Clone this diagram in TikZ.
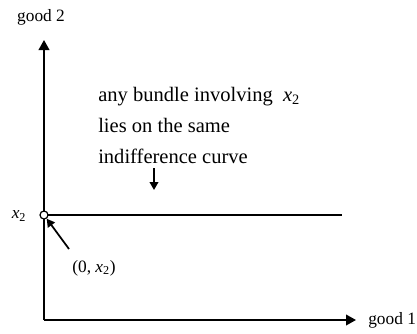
\documentclass[tikz,border=0pt]{standalone}
\usepackage{fontspec}
\setmainfont{Liberation Serif}
\usepackage{tikz}
\usetikzlibrary{arrows.meta}

\newcommand{\xtwo}{\textit{x}\textsubscript{2}}

\begin{document}
\begin{tikzpicture}[x=0.75pt,y=0.75pt]
\useasboundingbox (0,0) rectangle (417,333);
\tikzset{
  axis/.style={line width=1.3pt,-{Triangle[length=7.5pt,width=8pt]}},
  pointer/.style={line width=1.3pt,-{Triangle[length=6pt,width=6.5pt]}},
  label/.style={font=\fontsize{13}{15}\selectfont,inner sep=0pt}
}
% Axes
\coordinate (O) at (44,13);
\coordinate (ytop) at (44,293);
\coordinate (xend) at (356,13);
\draw[axis] (O) -- (ytop);
\draw[axis] (O) -- (xend);
\node[label,anchor=west] (good1) at (368,13) {good 1};
\node[label] (good2) at (41,316) {good 2};

% Indifference curve
\coordinate (icend) at (342,118);
\draw[line width=2pt] (44,118) -- (icend);
\node[circle,draw,fill=white,line width=0.9pt,inner sep=0pt,minimum size=6pt] (pt) at (44,118) {};
\node[label] (x2) at (19,117) {\xtwo};

% Point label
\node[label] (coord) at (94,65) {(0, \xtwo)};
\coordinate (ptail) at (69,84);
\draw[pointer] (ptail) -- (pt);

% Comment text
\node[anchor=north west,align=left,inner sep=0pt,
  font=\fontsize{15.4}{23.3}\selectfont] (note) at (98,246)
  {any bundle involving~~\xtwo\\lies on the same\\indifference curve};
\coordinate (dtop) at (154,165);
\coordinate (dbot) at (154,143);
\draw[pointer] (dtop) -- (dbot);
\end{tikzpicture}
\end{document}
